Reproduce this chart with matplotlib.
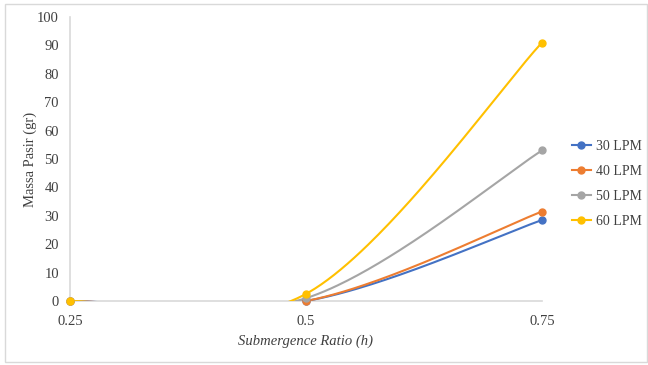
import numpy as np
import matplotlib
matplotlib.use("Agg")
import matplotlib.pyplot as plt
from matplotlib.patches import Rectangle

categories = ["0.25", "0.5", "0.75"]
series_names = ["30 LPM", "40 LPM", "50 LPM", "60 LPM"]
lpm30 = [0, 0, 28.5]
lpm40 = [0, 0, 31.5]
lpm50 = [0, 1, 53]
lpm60 = [0, 2.5, 91]
series_values = [lpm30, lpm40, lpm50, lpm60]
colors = ["#4472C4", "#ED7D31", "#A5A5A5", "#FFC000"]

plt.rcParams['font.family'] = ['Liberation Serif', 'DejaVu Serif']


def excel_smooth(xs, ys, n=80):
    """Bezier smoothing similar to Excel's smoothed line."""
    P = np.column_stack([xs, ys]).astype(float)
    m = len(P)
    out = []
    for i in range(m - 1):
        p0 = P[i]
        p3 = P[i + 1]
        prev = P[i - 1] if i > 0 else P[i]
        nxt = P[i + 2] if i + 2 < m else P[i + 1]
        c1 = p0 + (p3 - prev) / 6.0
        c2 = p3 - (nxt - p0) / 6.0
        t = np.linspace(0, 1, n)[:, None]
        seg = ((1 - t) ** 3) * p0 + 3 * ((1 - t) ** 2) * t * c1 + 3 * (1 - t) * t ** 2 * c2 + t ** 3 * p3
        if i > 0:
            seg = seg[1:]
        out.append(seg)
    out = np.vstack(out)
    return out[:, 0], out[:, 1]


W, H = 648, 365
fig = plt.figure(figsize=(W / 100, H / 100), dpi=100)
ax = fig.add_axes([70 / W, 1 - 301 / H, (542 - 70) / W, (301 - 17) / H])

x = np.arange(len(categories))
for name, vals, c in zip(series_names, series_values, colors):
    sx, sy = excel_smooth(x, vals)
    ax.plot(sx, sy, color=c, lw=1.5, solid_capstyle='round', zorder=3)
    ax.plot(x, vals, linestyle='none', marker='o', ms=5, color=c, clip_on=False, zorder=4)
    ax.plot([], [], color=c, lw=1.5, marker='o', ms=5, label=name)

ax.set_xlim(0, len(categories) - 1)
ax.set_ylim(0, 100)
ax.set_yticks(np.arange(0, 101, 10))
ax.set_xticks(x)
ax.set_xticklabels(categories)
ax.tick_params(axis='both', length=0, labelsize=10.5, colors='#404040')
ax.tick_params(axis='y', pad=8)
ax.tick_params(axis='x', pad=10)
for s in ['top', 'right']:
    ax.spines[s].set_visible(False)
for s in ['left', 'bottom']:
    ax.spines[s].set_color('#D9D9D9')
    ax.spines[s].set_linewidth(1.2)

fig.text(30 / W, 1 - 159 / H, "Massa Pasir (gr)", rotation=90, ha='center', va='center',
         fontsize=10.5, color='#404040')
fig.text(306 / W, 1 - 341 / H, "Submergence Ratio (h)", ha='center', va='center',
         fontsize=10.5, style='italic', color='#404040')

leg = fig.legend(loc='center left', bbox_to_anchor=(572 / W, 1 - 184 / H), frameon=False,
                 fontsize=10, handlelength=1.35, handletextpad=0.4, labelspacing=0.85,
                 borderaxespad=0, borderpad=0)
for t in leg.get_texts():
    t.set_color('#404040')

fig.patches.append(Rectangle((5 / W, 1 - 362 / H), (W - 6) / W, (360 - 2) / H,
                             transform=fig.transFigure, fill=False, edgecolor='#D9D9D9', lw=1))

fig.savefig("out.png", dpi=100)
